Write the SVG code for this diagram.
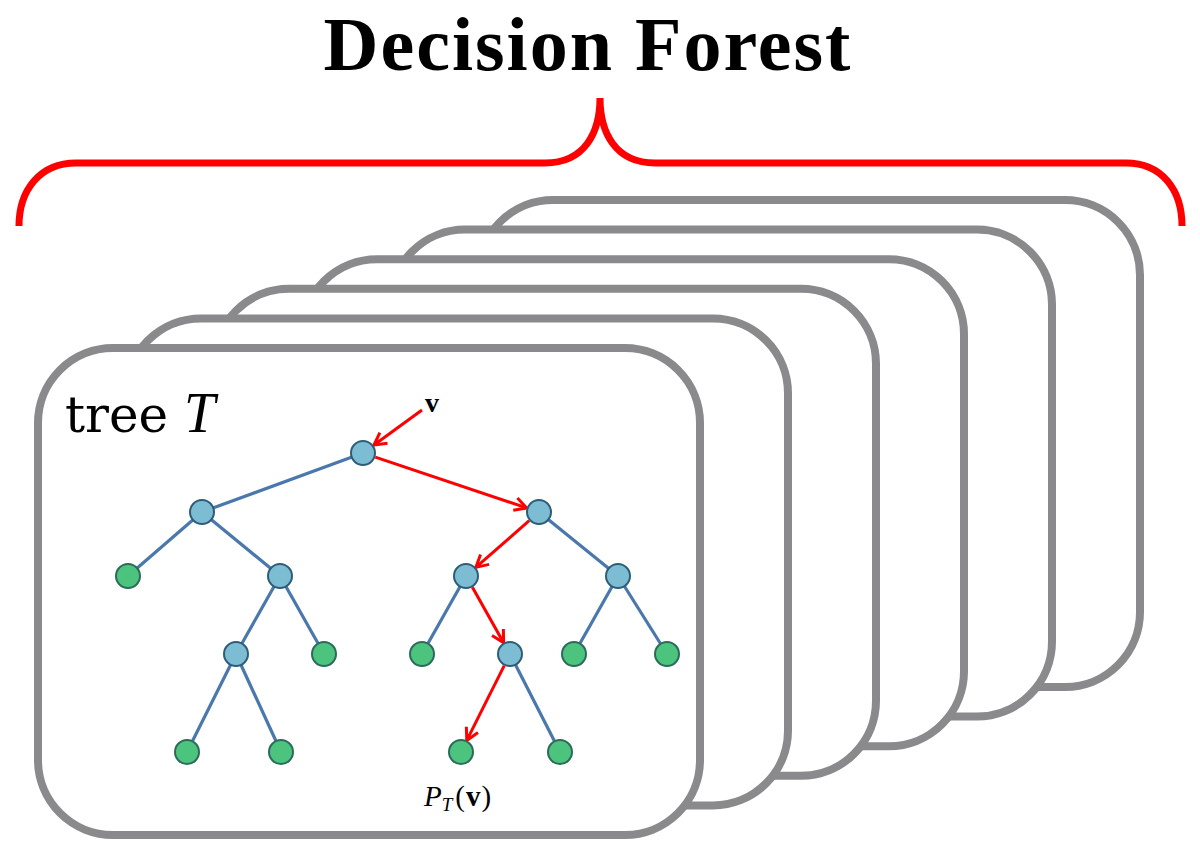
<svg xmlns="http://www.w3.org/2000/svg" width="1200" height="853" viewBox="0 0 1200 853">
<style>
.card{fill:#ffffff;stroke:#8a898b;stroke-width:8}
.edge{stroke:#4a78ad;stroke-width:3.2;fill:none}
.red{stroke:#ff0000;stroke-width:3;fill:none;marker-end:url(#arr)}
.inner{fill:#7dbdd4;stroke:#2e5d78;stroke-width:2}
.leaf{fill:#4cc47d;stroke:#2c6b5c;stroke-width:2}
</style>
<defs>
<marker id="arr" markerUnits="userSpaceOnUse" markerWidth="20" markerHeight="20" viewBox="-14 -10 20 20" refX="0" refY="0" orient="auto">
<path d="M-12,-6.5 L0,0 L-12,6.5" fill="none" stroke="#ff0000" stroke-width="3" stroke-linejoin="round"/>
</marker>
</defs>
<rect width="1200" height="853" fill="#ffffff"/>
<text x="588" y="70" font-family="'Liberation Serif', serif" font-weight="bold" font-size="76" letter-spacing="2" text-anchor="middle" fill="#000">Decision Forest</text>
<path id="brace" d="M19,226 C19,190 40,163 76,163 L545,163 C585,163 600,132 600,98 C600,132 615,163 655,163 L1126,163 C1162,163 1182,190 1182,226" fill="none" stroke="#ff0000" stroke-width="7"/>
<g id="cards">
<rect id="card6" class="card" x="478" y="200" width="662" height="487" rx="75"/>
<rect id="card5" class="card" x="390" y="229.6" width="662" height="487" rx="75"/>
<rect id="card4" class="card" x="302" y="259.2" width="662" height="487" rx="75"/>
<rect id="card3" class="card" x="214" y="288.8" width="662" height="487" rx="75"/>
<rect id="card2" class="card" x="126" y="318.4" width="662" height="487" rx="75"/>
<rect id="card1" class="card" x="38" y="348" width="662" height="487" rx="75"/>
</g>
<text x="65" y="432" font-family="'DejaVu Serif', serif" font-size="50" fill="#000">tree <tspan font-family="'Liberation Serif', serif" font-style="italic" font-size="56">T</tspan></text>
<text x="425" y="412" font-family="'Liberation Serif', serif" font-weight="bold" font-size="28" fill="#000">v</text>
<text x="424" y="806" font-family="'Liberation Serif', serif" font-size="29" fill="#000"><tspan font-style="italic">P</tspan><tspan font-style="italic" font-size="19" dy="5">T</tspan><tspan dy="-5" dx="3">(</tspan><tspan font-weight="bold" dx="1">v</tspan><tspan dx="1">)</tspan></text>
<g id="connectors">
<line class="edge" x1="363" y1="453" x2="202" y2="512"/>
<line class="edge" x1="202" y1="512" x2="128" y2="576"/>
<line class="edge" x1="202" y1="512" x2="280" y2="576"/>
<line class="edge" x1="280" y1="576" x2="236" y2="654"/>
<line class="edge" x1="280" y1="576" x2="324" y2="654"/>
<line class="edge" x1="236" y1="654" x2="187" y2="752"/>
<line class="edge" x1="236" y1="654" x2="281" y2="752"/>
<line class="edge" x1="539" y1="512" x2="618" y2="576"/>
<line class="edge" x1="466" y1="576" x2="422" y2="654"/>
<line class="edge" x1="618" y1="576" x2="574" y2="654"/>
<line class="edge" x1="618" y1="576" x2="667" y2="654"/>
<line class="edge" x1="510" y1="654" x2="560" y2="752"/>
<line class="red" x1="422" y1="410" x2="374" y2="445"/>
<line class="red" x1="375.3" y1="457.1" x2="526.7" y2="507.9"/>
<line class="red" x1="529.2" y1="520.6" x2="475.8" y2="567.4"/>
<line class="red" x1="472.4" y1="587.3" x2="503.6" y2="642.7"/>
<line class="red" x1="504.2" y1="665.6" x2="466.8" y2="740.4"/>
</g>
<g id="n_root"><circle class="inner" cx="363" cy="453" r="12"/></g>
<g id="n_L"><circle class="inner" cx="202" cy="512" r="12"/></g>
<g id="n_R"><circle class="inner" cx="539" cy="512" r="12"/></g>
<g id="n_LL"><circle class="leaf" cx="128" cy="576" r="12"/></g>
<g id="n_LR"><circle class="inner" cx="280" cy="576" r="12"/></g>
<g id="n_LRL"><circle class="inner" cx="236" cy="654" r="12"/></g>
<g id="n_LRR"><circle class="leaf" cx="324" cy="654" r="12"/></g>
<g id="n_LRLL"><circle class="leaf" cx="187" cy="752" r="12"/></g>
<g id="n_LRLR"><circle class="leaf" cx="281" cy="752" r="12"/></g>
<g id="n_RL"><circle class="inner" cx="466" cy="576" r="12"/></g>
<g id="n_RR"><circle class="inner" cx="618" cy="576" r="12"/></g>
<g id="n_RLL"><circle class="leaf" cx="422" cy="654" r="12"/></g>
<g id="n_RLR"><circle class="inner" cx="510" cy="654" r="12"/></g>
<g id="n_RRL"><circle class="leaf" cx="574" cy="654" r="12"/></g>
<g id="n_RRR"><circle class="leaf" cx="667" cy="654" r="12"/></g>
<g id="n_RLRL"><circle class="leaf" cx="461" cy="752" r="12"/></g>
<g id="n_RLRR"><circle class="leaf" cx="560" cy="752" r="12"/></g>
</svg>
